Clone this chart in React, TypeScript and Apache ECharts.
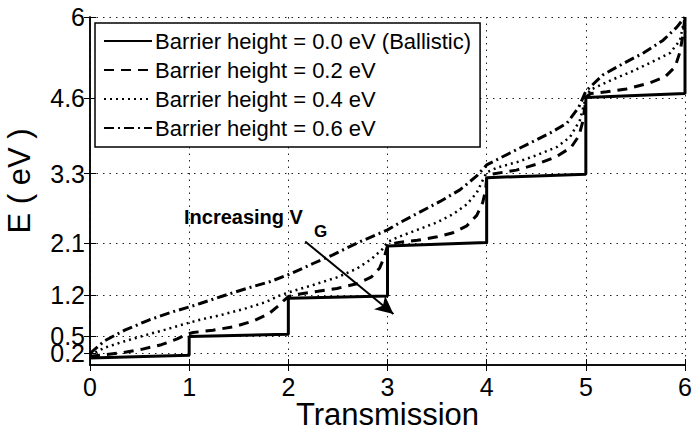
import React, { useEffect, useRef } from "react";
import * as echarts from "echarts";

type Pt = [number, number];

// Axis ticks
const xTicks = [0, 1, 2, 3, 4, 5, 6];
const yTicks = [0.2, 0.5, 1.2, 2.1, 3.3, 4.6, 6];

const seriesNames = [
  "Barrier height = 0.0 eV (Ballistic)",
  "Barrier height = 0.2 eV",
  "Barrier height = 0.4 eV",
  "Barrier height = 0.6 eV",
];

// [transmission, energy (eV)]
const ballistic: Pt[] = [
  [0, 0.12], [1, 0.17], [1, 0.49], [2, 0.53], [2, 1.15], [3, 1.19], [3, 2.05],
  [4, 2.11], [4, 3.23], [5, 3.29], [5, 4.61], [6, 4.68], [6, 6.0],
];

const barrier02: Pt[] = [
  [0, 0.15], [0.32, 0.21], [0.52, 0.27], [0.72, 0.35], [0.88, 0.45], [0.96, 0.52],
  [1.04, 0.56], [1.24, 0.6], [1.45, 0.66], [1.65, 0.76], [1.8, 0.88], [1.9, 1.02],
  [1.96, 1.12], [2.0, 1.18], [2.1, 1.22], [2.3, 1.27], [2.49, 1.32], [2.69, 1.4],
  [2.84, 1.52], [2.92, 1.67], [2.97, 1.87], [3.0, 2.06], [3.1, 2.11], [3.3, 2.15],
  [3.5, 2.21], [3.66, 2.28], [3.8, 2.4], [3.9, 2.58], [3.96, 2.8], [3.99, 3.02],
  [4.0, 3.22], [4.05, 3.29], [4.3, 3.36], [4.5, 3.46], [4.7, 3.59], [4.85, 3.75],
  [4.93, 3.95], [4.97, 4.2], [4.99, 4.45], [5.0, 4.62], [5.05, 4.68], [5.21, 4.71],
  [5.41, 4.76], [5.64, 4.86], [5.8, 4.97], [5.9, 5.14], [5.95, 5.4], [5.98, 5.7],
  [6.0, 6.0],
];

const barrier04: Pt[] = [
  [0, 0.17], [0.15, 0.3], [0.35, 0.41], [0.55, 0.51], [0.76, 0.61], [0.96, 0.71],
  [1.11, 0.78], [1.34, 0.87], [1.58, 0.98], [1.78, 1.09], [1.9, 1.19], [2.0, 1.25],
  [2.25, 1.38], [2.49, 1.51], [2.69, 1.66], [2.84, 1.83], [2.95, 2.0], [3.0, 2.12],
  [3.1, 2.2], [3.3, 2.33], [3.5, 2.46], [3.66, 2.6], [3.8, 2.77], [3.9, 2.97],
  [3.95, 3.15], [4.0, 3.32], [4.1, 3.4], [4.31, 3.5], [4.51, 3.62], [4.71, 3.76],
  [4.84, 3.93], [4.94, 4.22], [4.99, 4.55], [5.04, 4.74], [5.24, 4.9], [5.45, 5.05],
  [5.65, 5.21], [5.85, 5.38], [5.95, 5.6], [5.98, 5.85], [6.0, 6.0],
];

const barrier06: Pt[] = [
  [0, 0.2], [0.15, 0.42], [0.35, 0.6], [0.6, 0.78], [0.84, 0.92], [1.0, 1.0],
  [1.11, 1.06], [1.34, 1.19], [1.58, 1.32], [1.82, 1.44], [2.02, 1.57], [2.25, 1.75],
  [2.45, 1.9], [2.69, 2.1], [2.92, 2.27], [3.0, 2.33], [3.13, 2.46], [3.33, 2.64],
  [3.53, 2.82], [3.73, 3.02], [3.9, 3.26], [4.0, 3.45], [4.24, 3.66], [4.44, 3.83],
  [4.64, 4.0], [4.81, 4.17], [4.93, 4.45], [5.0, 4.72], [5.17, 5.0], [5.38, 5.2],
  [5.58, 5.38], [5.78, 5.6], [5.92, 5.83], [6.0, 6.0],
];

// "Increasing V_G" arrow, in data coordinates
const arrowFrom: Pt = [2.17, 2.13];
const arrowTo: Pt = [3.06, 0.88];

const FONT = "'Liberation Sans', Arial, Helvetica, sans-serif";

const dashStyles: any[] = ["solid", [10, 7], [2, 4], [10, 4, 2, 4]];
const lineWidths = [3, 3, 2.5, 3];
const seriesData = [ballistic, barrier02, barrier04, barrier06];

export default function App() {
  const ref = useRef<HTMLDivElement>(null);

  useEffect(() => {
    document.body.style.margin = "0";
    if (!ref.current) return;
    const chart = echarts.init(ref.current, undefined, { renderer: "svg" });

    const gridLine = { show: true, lineStyle: { color: "#222", width: 1, type: [1.5, 5] as any } };
    const frameLine = { show: true, lineStyle: { color: "#000", width: 1.5 } };
    const tick = { show: true, inside: true, length: 6, lineStyle: { color: "#000", width: 1 } };
    const tickLabel = { fontFamily: FONT, fontSize: 25, color: "#000" };

    const series: any[] = seriesData.map((d, i) => ({
      name: seriesNames[i],
      type: "line",
      data: d,
      symbol: "none",
      z: 3 + i,
      lineStyle: { color: "#000", width: lineWidths[i], type: dashStyles[i] },
      itemStyle: { color: "#000" },
    }));

    series[0].markLine = {
      silent: true,
      symbol: ["none", "arrow"],
      symbolSize: [13, 18],
      label: { show: false },
      lineStyle: { color: "#000", width: 2, type: "solid" },
      data: [[{ coord: arrowFrom }, { coord: arrowTo }]],
    };

    // the lowest tick label sits right under its neighbour, so it lives on its own axis
    const lowTicks = yTicks.slice(0, 1);
    const mainTicks = yTicks.slice(1);

    chart.setOption({
      animation: false,
      backgroundColor: "#fff",
      textStyle: { fontFamily: FONT },
      grid: { left: 90, right: 8, top: 17, bottom: 65, containLabel: false, outerBoundsMode: "none" },
      legend: {
        orient: "vertical",
        left: 95,
        top: 23,
        data: seriesNames,
        backgroundColor: "#fff",
        borderColor: "#000",
        borderWidth: 1.5,
        padding: [7, 9, 8, 8],
        itemWidth: 48,
        itemHeight: 14,
        itemGap: 7,
        selectedMode: false,
        itemStyle: { color: "rgba(0,0,0,0)", borderColor: "rgba(0,0,0,0)", borderWidth: 0 },
        textStyle: { fontFamily: FONT, fontSize: 22, color: "#000", lineHeight: 22, padding: [0, 0, 0, -2] },
      },
      xAxis: [
        {
          type: "value",
          min: 0,
          max: 6,
          interval: 1,
          name: "Transmission",
          nameLocation: "middle",
          nameGap: 39,
          nameMoveOverlap: false,
          nameTextStyle: { fontFamily: FONT, fontSize: 31, lineHeight: 20, color: "#000" },
          axisLine: frameLine,
          axisTick: { ...tick, customValues: xTicks },
          axisLabel: { ...tickLabel, margin: 9, customValues: xTicks },
          splitLine: gridLine,
        },
        {
          type: "value",
          position: "top",
          min: 0,
          max: 6,
          interval: 1,
          axisLine: frameLine,
          axisTick: tick,
          axisLabel: { show: false },
          splitLine: { show: false },
        },
      ],
      yAxis: [
        {
          type: "value",
          min: 0,
          max: 6,
          name: "E ( eV )",
          nameLocation: "middle",
          nameGap: 58,
          nameMoveOverlap: false,
          nameRotate: 90,
          nameTextStyle: { fontFamily: FONT, fontSize: 31, lineHeight: 26, color: "#000", padding: [0, 0, 0, 20] },
          axisLine: frameLine,
          axisTick: { ...tick, customValues: yTicks },
          axisLabel: {
            ...tickLabel,
            margin: 5,
            customValues: mainTicks,
            hideOverlap: false,
            showMinLabel: true,
            showMaxLabel: true,
          },
          splitLine: gridLine,
        },
        {
          type: "value",
          position: "right",
          min: 0,
          max: 6,
          axisLine: frameLine,
          axisTick: { ...tick, customValues: yTicks },
          axisLabel: { show: false, customValues: yTicks },
          splitLine: { show: false },
        },
        {
          type: "value",
          position: "left",
          offset: 0,
          min: 0,
          max: 6,
          axisLine: { show: false },
          axisTick: { show: false, customValues: lowTicks },
          axisLabel: { ...tickLabel, margin: 5, customValues: lowTicks, showMinLabel: true, showMaxLabel: true },
          splitLine: { show: false },
        },
      ],
      graphic: [
        {
          type: "text",
          left: 184,
          top: 207,
          z: 20,
          style: { text: "Increasing V", fontFamily: FONT, fontSize: 20, fontWeight: "bold", fill: "#000" },
        },
        {
          type: "text",
          left: 314,
          top: 223,
          z: 20,
          style: { text: "G", fontFamily: FONT, fontSize: 17, fontWeight: "bold", fill: "#000" },
        },
      ],
      series,
    });

    return () => chart.dispose();
  }, []);

  return <div ref={ref} style={{ width: 693, height: 430 }} />;
}
